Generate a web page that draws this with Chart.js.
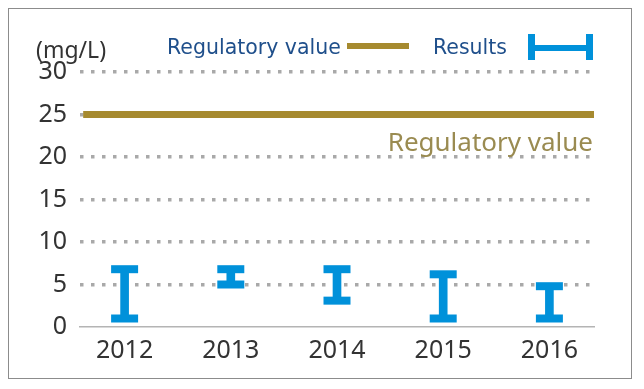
<!DOCTYPE html>
<html>
<head>
<meta charset="utf-8">
<script src="https://cdn.jsdelivr.net/npm/chart.js@4/dist/chart.umd.min.js"></script>
<style>
  html, body { margin: 0; padding: 0; background: #fff; }
  #wrap { position: relative; width: 644px; height: 389px; }
  #frame { position: absolute; left: 8px; top: 8px; width: 622px; height: 369px; border: 1.5px solid #8c8c8c; }
  .txt { position: absolute; white-space: nowrap; line-height: 1; }
  #unit { left: 36px; top: 33px; font: 23px "Noto Sans", sans-serif; color: #333; }
  #legReg { left: 167px; top: 35px; font: 20.5px "DejaVu Sans", sans-serif; color: #1f4f8b; }
  #legRes { left: 433px; top: 35px; font: 20.5px "DejaVu Sans", sans-serif; color: #1f4f8b; }
  #annReg { right: 51px; top: 123px; font: 26px "Noto Sans", sans-serif; color: #9a8b51; }
  #symReg { position: absolute; left: 347px; top: 43px; width: 62px; height: 6px; background: #a68a2f; }
  #symRes { position: absolute; left: 528px; top: 34px; width: 65px; height: 26px; }
  #symRes div { position: absolute; background: #0091da; }
</style>
</head>
<body>
<div id="wrap">
  <canvas id="c" width="644" height="389"></canvas>
  <div id="frame"></div>
  <div class="txt" id="unit">(mg/L)</div>
  <div class="txt" id="legReg">Regulatory value</div>
  <div id="symReg"></div>
  <div class="txt" id="legRes">Results</div>
  <div id="symRes">
    <div style="left:0;top:0;width:7px;height:26px"></div>
    <div style="left:58px;top:0;width:7px;height:26px"></div>
    <div style="left:0;top:11px;width:65px;height:6px"></div>
  </div>
  <div class="txt" id="annReg">Regulatory value</div>
</div>
<script>
// data
const years = [2012, 2013, 2014, 2015, 2016];
const lows = [1.0, 5.0, 3.1, 1.0, 1.0];
const highs = [6.8, 6.8, 6.8, 6.2, 4.8];
const regulatoryValue = 25;
const yTicks = [0, 5, 10, 15, 20, 25, 30];

const BLUE = '#0091da';
const GOLD = '#a68a2f';
const X_MIN = 2011.58, X_MAX = 2016.42;

const ctx = document.getElementById('c').getContext('2d');
new Chart(ctx, {
  data: {
    datasets: [
      {
        type: 'line',
        data: [{ x: X_MIN + 0.03, y: regulatoryValue }, { x: X_MAX, y: regulatoryValue }],
        borderColor: GOLD,
        borderWidth: 7,
        pointRadius: 0,
        order: 3
      },
      {
        type: 'bar',
        data: years.map((yr, i) => ({ x: yr, y: [lows[i], highs[i]] })),
        backgroundColor: BLUE,
        barThickness: 8,
        order: 2
      },
      {
        type: 'scatter',
        data: years.map((yr, i) => ({ x: yr, y: lows[i] })),
        pointStyle: 'line',
        radius: 13.5,
        borderColor: BLUE,
        borderWidth: 8,
        order: 1
      },
      {
        type: 'scatter',
        data: years.map((yr, i) => ({ x: yr, y: highs[i] })),
        pointStyle: 'line',
        radius: 13.5,
        borderColor: BLUE,
        borderWidth: 8,
        order: 1
      }
    ]
  },
  options: {
    responsive: false,
    animation: false,
    events: [],
    layout: { padding: { top: 72, right: 50, left: 0, bottom: 0 } },
    plugins: { legend: { display: false }, tooltip: { enabled: false } },
    scales: {
      x: {
        type: 'linear',
        offset: false,
        min: X_MIN,
        max: X_MAX,
        afterBuildTicks: s => { s.ticks = years.map(v => ({ value: v })); },
        afterFit: s => { s.height = 62; },
        grid: { display: false },
        border: { display: true, color: '#b4b4b4', width: 1.5 },
        ticks: {
          padding: 1,
          color: '#333',
          font: { family: 'Noto Sans', size: 25 },
          callback: v => String(v)
        }
      },
      y: {
        min: 0,
        max: 30,
        afterBuildTicks: s => { s.ticks = yTicks.map(v => ({ value: v })); },
        afterFit: s => { s.width = 80; },
        grid: {
          drawTicks: false,
          lineWidth: 3.5,
          color: c => c.tick && c.tick.value === 0 ? 'rgba(0,0,0,0)' : '#a9a9a9'
        },
        border: { display: false, dash: [3.5, 7.5] },
        ticks: {
          padding: 13,
          color: '#333',
          font: { family: 'Noto Sans', size: 25 }
        }
      }
    }
  }
});
</script>
</body>
</html>
